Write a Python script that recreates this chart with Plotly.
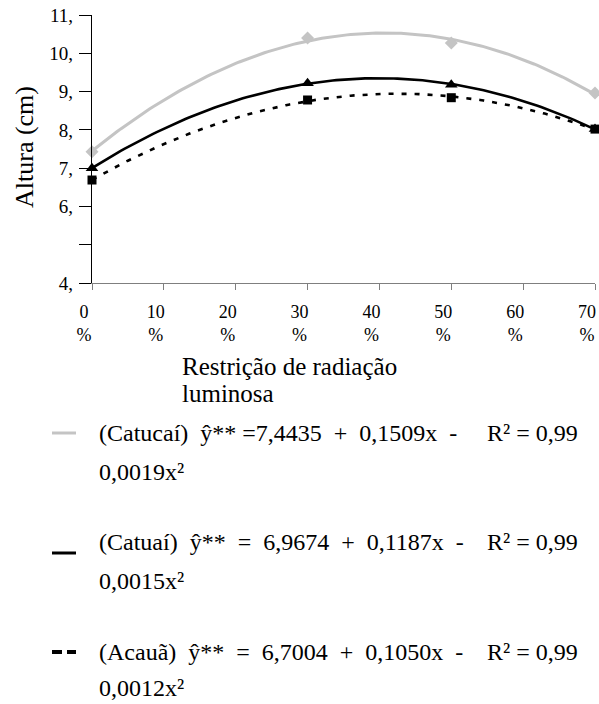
import numpy as np
import plotly.graph_objects as go

# ---------------- data ----------------
restricao = [0, 30, 50, 70]                 # % radiation restriction
catucai = [7.43, 10.40, 10.27, 8.96]
catuai = [7.00, 9.22, 9.18, 8.02]
acaua = [6.69, 8.78, 8.84, 8.02]

x_tickvals = [0, 10, 20, 30, 40, 50, 60, 70]
x_ticktext = [f"{v}<br>%" for v in x_tickvals]
y_tickvals = [4, 5, 6, 7, 8, 9, 10, 11]
y_ticktext = ["4,", "", "6,", "7,", "8,", "9,", "10,", "11,"]

names = ["Catucaí", "Catuaí", "Acauã"]
eq_line1 = [
    "(Catucaí)\u00a0\u00a0ŷ**\u00a0=7,4435\u00a0\u00a0+\u00a0\u00a00,1509x\u00a0\u00a0-",
    "(Catuaí)\u00a0\u00a0ŷ**\u00a0\u00a0=\u00a0\u00a06,9674\u00a0\u00a0+\u00a0\u00a00,1187x\u00a0\u00a0-",
    "(Acauã)\u00a0\u00a0ŷ**\u00a0\u00a0=\u00a0\u00a06,7004\u00a0\u00a0+\u00a0\u00a00,1050x\u00a0\u00a0-",
]
eq_line2 = ["0,0019x²", "0,0015x²", "0,0012x²"]
r2_text = ["R² = 0,99", "R² = 0,99", "R² = 0,99"]

# ---------------- layout constants ----------------
W, H = 599, 704
ML, MR, MT, MB = 92, 4, 15, 421
PW, PH = W - ML - MR, H - MT - MB

def px(xp):
    return (xp - ML) / PW

def py(yp):
    return (H - MB - yp) / PH

SERIF = "Liberation Serif, Times New Roman, Times, serif"
colors = ["#c4c4c4", "#000000", "#000000"]
dashes = ["solid", "solid", "5px,8px"]
widths = [3, 2.6, 2.6]
symbols = ["diamond", "triangle-up", "square"]
msizes = [10, 11, 9]
series = [catucai, catuai, acaua]

fig = go.Figure()

xs = np.linspace(0, 70, 141)
for i in range(3):
    coef = np.polyfit(restricao, series[i], 2)
    fig.add_trace(go.Scatter(
        x=xs, y=np.polyval(coef, xs), mode="lines",
        line=dict(color=colors[i], width=widths[i], dash=dashes[i]),
        showlegend=False, hoverinfo="skip", cliponaxis=False,
    ))
for i in range(3):
    fig.add_trace(go.Scatter(
        x=restricao, y=series[i], mode="markers", name=names[i],
        marker=dict(symbol=symbols[i], size=msizes[i], color=colors[i]),
        showlegend=False, cliponaxis=False,
    ))

annotations = []
# y axis title
annotations.append(dict(
    x=px(24), y=py(147), xref="paper", yref="paper", text="Altura (cm)",
    textangle=-90, showarrow=False, xanchor="center", yanchor="middle",
    font=dict(family=SERIF, size=26, color="#000"),
))
# x axis title (two lines)
for t, yy in [("Restrição de radiação", 366), ("luminosa", 393)]:
    annotations.append(dict(
        x=px(180), y=py(yy), xref="paper", yref="paper", text=t,
        showarrow=False, xanchor="left", yanchor="middle",
        font=dict(family=SERIF, size=25, color="#000"),
    ))

# legend-like equations
line1_y = [433, 542, 652]
line2_y = [472, 581, 688]
sym_y = [433, 553, 652]
shapes = []
for i in range(3):
    annotations.append(dict(
        x=px(97), y=py(line1_y[i]), xref="paper", yref="paper", text=eq_line1[i],
        showarrow=False, xanchor="left", yanchor="middle",
        font=dict(family=SERIF, size=24, color="#000"),
    ))
    annotations.append(dict(
        x=px(97), y=py(line2_y[i]), xref="paper", yref="paper", text=eq_line2[i],
        showarrow=False, xanchor="left", yanchor="middle",
        font=dict(family=SERIF, size=24, color="#000"),
    ))
    annotations.append(dict(
        x=px(485), y=py(line1_y[i]), xref="paper", yref="paper", text=r2_text[i],
        showarrow=False, xanchor="left", yanchor="middle",
        font=dict(family=SERIF, size=24, color="#000"),
    ))
    shapes.append(dict(
        type="line", xref="paper", yref="paper",
        x0=px(52), x1=px(76), y0=py(sym_y[i]), y1=py(sym_y[i]),
        line=dict(color=colors[i], width=3 if i < 2 else 4,
                  dash="solid" if i < 2 else "10px,5px"),
    ))

fig.update_layout(
    width=W, height=H,
    margin=dict(l=ML, r=MR, t=MT, b=MB, autoexpand=False),
    paper_bgcolor="white", plot_bgcolor="white",
    showlegend=False,
    annotations=annotations, shapes=shapes,
    xaxis=dict(
        range=[0, 70], tickvals=x_tickvals, ticktext=x_ticktext,
        showgrid=False, zeroline=False, showline=True, linecolor="#7f7f7f",
        linewidth=1.3, ticks="outside", ticklen=6, tickcolor="#7f7f7f",
        tickfont=dict(family=SERIF, size=18, color="#000"),
        ticklabelshift=-8, ticklabelstandoff=6, ticklabeloverflow="allow",
    ),
    yaxis=dict(
        range=[4, 11], tickvals=y_tickvals, ticktext=y_ticktext,
        showgrid=False, zeroline=False, showline=True, linecolor="#000",
        linewidth=1.3, ticks="outside", ticklen=12, tickcolor="#000",
        tickfont=dict(family=SERIF, size=19, color="#000"),
        ticklabelstandoff=2,
    ),
)

fig.write_html(
    "out.html",
    config={"displayModeBar": False},
    post_script="document.body.style.margin='0';document.body.style.padding='0';"
                "document.body.style.overflow='hidden';",
)
